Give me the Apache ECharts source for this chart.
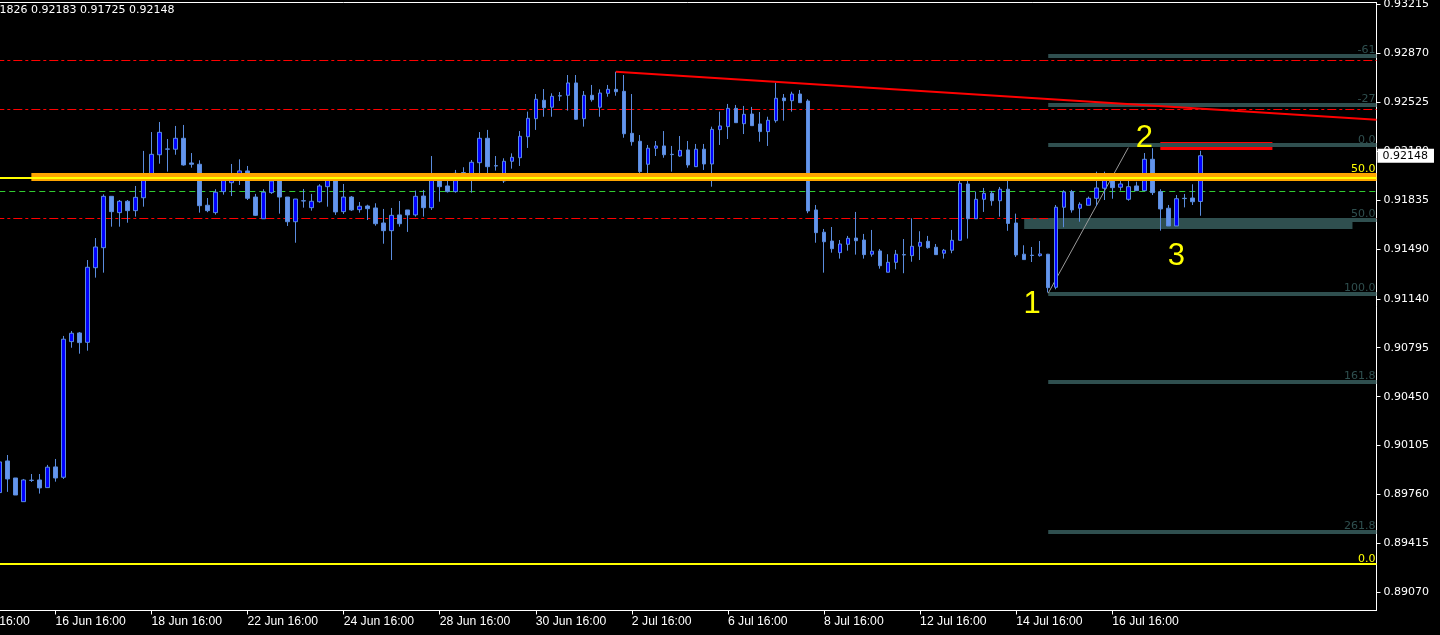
<!DOCTYPE html>
<html><head><meta charset="utf-8">
<script src="https://cdn.jsdelivr.net/npm/echarts@6/dist/echarts.min.js"></script>
<style>html,body{margin:0;padding:0;background:#000;}#c{width:1440px;height:635px;}</style>
</head><body><div id="c"></div>
<script>
// ---- data ----
const tickLabels = ['14 Jun 16:00','16 Jun 16:00','18 Jun 16:00','22 Jun 16:00','24 Jun 16:00','28 Jun 16:00','30 Jun 16:00','2 Jul 16:00','6 Jul 16:00','8 Jul 16:00','12 Jul 16:00','14 Jul 16:00','16 Jul 16:00'];
const barsPerTick = 12;
const slotCount = 178;          // H4 bar slots on the axis (incl. empty space on the right)
const firstBarSlot = 5;         // slot of the first (partly visible) candle
const yTickLabels = ['0.93215','0.92870','0.92525','0.92180','0.91835','0.91490','0.91140','0.90795','0.90450','0.90105','0.89760','0.89415','0.89070'];
const yMin = 0.88943, yMax = 0.93228;
const headerValues = ['0.91826','0.92183','0.91725','0.92148'];
const lastPrice = 0.92148;
// [open, close, low, high]
const candles = [
[0.89774,0.89990,0.89764,0.90004],[0.89997,0.89870,0.89779,0.90039],[0.89877,0.89757,0.89757,0.89877],[0.89710,0.89863,0.89710,0.89870],
[0.89861,0.89860,0.89849,0.89905],[0.89863,0.89807,0.89767,0.89905],[0.89809,0.89953,0.89809,0.89969],[0.89955,0.89877,0.89851,0.90011],
[0.89882,0.90855,0.89870,0.90878],[0.90838,0.90897,0.90795,0.90913],[0.90899,0.90831,0.90753,0.90906],[0.90833,0.91362,0.90774,0.91413],
[0.91359,0.91505,0.91289,0.91568],[0.91500,0.91862,0.91324,0.91876],[0.91862,0.91754,0.91648,0.91862],[0.91747,0.91827,0.91648,0.91836],
[0.91827,0.91761,0.91676,0.91836],[0.91761,0.91855,0.91719,0.91935],[0.91852,0.92017,0.91789,0.92182],[0.92015,0.92158,0.92015,0.92315],
[0.92155,0.92313,0.92092,0.92386],[0.92194,0.92196,0.92036,0.92266],[0.92194,0.92271,0.92155,0.92358],[0.92271,0.92083,0.92078,0.92365],
[0.92097,0.92088,0.92064,0.92167],[0.92088,0.91796,0.91747,0.92116],[0.91799,0.91761,0.91750,0.91850],[0.91747,0.91891,0.91733,0.91912],
[0.91895,0.91977,0.91874,0.91998],[0.91958,0.91986,0.91864,0.92090],[0.91996,0.92041,0.91942,0.92123],[0.92041,0.91848,0.91836,0.92076],
[0.91857,0.91728,0.91723,0.91879],[0.91704,0.91891,0.91704,0.91912],[0.91888,0.91970,0.91879,0.91986],[0.91975,0.91857,0.91740,0.91986],
[0.91857,0.91683,0.91653,0.91857],[0.91683,0.91843,0.91535,0.91843],[0.91831,0.91829,0.91782,0.91914],[0.91782,0.91827,0.91761,0.91879],
[0.91824,0.91935,0.91817,0.91947],[0.91930,0.91984,0.91789,0.92005],[0.91984,0.91752,0.91731,0.91998],[0.91754,0.91857,0.91738,0.91949],
[0.91857,0.91766,0.91759,0.91864],[0.91768,0.91792,0.91747,0.91822],[0.91794,0.91775,0.91695,0.91803],[0.91780,0.91669,0.91655,0.91813],
[0.91674,0.91620,0.91528,0.91773],[0.91620,0.91728,0.91413,0.91780],[0.91731,0.91669,0.91648,0.91829],[0.91766,0.91731,0.91611,0.91766],
[0.91731,0.91862,0.91719,0.91902],[0.91864,0.91782,0.91719,0.91907],[0.91782,0.91984,0.91766,0.92146],[0.91998,0.91930,0.91824,0.92024],
[0.91935,0.91895,0.91889,0.92012],[0.91895,0.92024,0.91888,0.92048],[0.92027,0.92029,0.91972,0.92067],[0.92005,0.92102,0.91888,0.92118],
[0.92099,0.92271,0.92000,0.92315],[0.92271,0.92071,0.91972,0.92330],[0.92078,0.92076,0.92043,0.92146],[0.91970,0.92109,0.91956,0.92130],
[0.92109,0.92137,0.92057,0.92165],[0.92134,0.92285,0.92076,0.92322],[0.92282,0.92412,0.92203,0.92459],[0.92409,0.92546,0.92330,0.92583],
[0.92539,0.92487,0.92423,0.92618],[0.92490,0.92567,0.92423,0.92588],[0.92571,0.92569,0.92534,0.92597],[0.92574,0.92661,0.92466,0.92717],
[0.92661,0.92405,0.92400,0.92717],[0.92409,0.92574,0.92353,0.92604],[0.92574,0.92543,0.92529,0.92647],[0.92490,0.92590,0.92423,0.92616],
[0.92588,0.92616,0.92564,0.92647],[0.92616,0.92599,0.92571,0.92740],[0.92602,0.92303,0.92275,0.92717],[0.92306,0.92247,0.92219,0.92583],
[0.92250,0.92036,0.92000,0.92294],[0.92088,0.92201,0.92007,0.92224],[0.92201,0.92217,0.92146,0.92252],[0.92217,0.92155,0.92134,0.92322],
[0.92158,0.92156,0.92036,0.92217],[0.92146,0.92186,0.92141,0.92287],[0.92189,0.92083,0.92064,0.92252],[0.92071,0.92194,0.92071,0.92231],
[0.92194,0.92090,0.92048,0.92231],[0.92090,0.92334,0.91930,0.92353],[0.92332,0.92358,0.92224,0.92459],[0.92353,0.92482,0.92266,0.92513],
[0.92482,0.92381,0.92381,0.92506],[0.92374,0.92440,0.92301,0.92499],[0.92442,0.92360,0.92360,0.92492],[0.92372,0.92318,0.92247,0.92456],
[0.92318,0.92398,0.92217,0.92423],[0.92395,0.92553,0.92381,0.92663],[0.92555,0.92536,0.92395,0.92583],[0.92536,0.92583,0.92459,0.92599],
[0.92583,0.92522,0.92522,0.92611],[0.92534,0.91759,0.91743,0.92546],[0.91766,0.91606,0.91535,0.91801],[0.91609,0.91542,0.91324,0.91632],
[0.91547,0.91493,0.91465,0.91646],[0.91465,0.91526,0.91423,0.91554],[0.91524,0.91566,0.91479,0.91583],[0.91568,0.91549,0.91451,0.91752],
[0.91554,0.91451,0.91423,0.91597],[0.91454,0.91475,0.91437,0.91625],[0.91477,0.91373,0.91352,0.91491],[0.91327,0.91397,0.91327,0.91454],
[0.91397,0.91454,0.91348,0.91484],[0.91451,0.91449,0.91320,0.91561],[0.91444,0.91510,0.91401,0.91707],[0.91510,0.91538,0.91413,0.91616],
[0.91545,0.91500,0.91493,0.91583],[0.91503,0.91451,0.91451,0.91526],[0.91461,0.91482,0.91423,0.91491],[0.91482,0.91552,0.91461,0.91625],
[0.91552,0.91954,0.91552,0.92005],[0.91949,0.91704,0.91564,0.92005],[0.91704,0.91841,0.91704,0.91895],[0.91841,0.91883,0.91752,0.91921],
[0.91883,0.91831,0.91796,0.91900],[0.91831,0.91912,0.91719,0.91928],[0.91912,0.91671,0.91619,0.91977],[0.91674,0.91449,0.91435,0.91740],
[0.91454,0.91416,0.91416,0.91517],[0.91447,0.91445,0.91399,0.91505],[0.91444,0.91456,0.91437,0.91547],[0.91454,0.91218,0.91184,0.91456],
[0.91221,0.91785,0.91207,0.91801],[0.91785,0.91893,0.91644,0.91905],[0.91895,0.91766,0.91747,0.91907],[0.91778,0.91806,0.91683,0.91820],
[0.91799,0.91848,0.91799,0.91860],[0.91848,0.91921,0.91794,0.92036],[0.91919,0.91984,0.91836,0.92036],[0.91979,0.91923,0.91845,0.92024],
[0.91926,0.91949,0.91902,0.91982],[0.91841,0.91930,0.91831,0.92005],[0.91935,0.91902,0.91902,0.91965],[0.91902,0.92123,0.91902,0.92167],
[0.92123,0.91888,0.91871,0.92201],[0.91895,0.91773,0.91620,0.91912],[0.91778,0.91653,0.91653,0.91801],[0.91653,0.91845,0.91653,0.91871],
[0.91848,0.91846,0.91784,0.91879],[0.91850,0.91824,0.91801,0.91947],[0.91826,0.92148,0.91725,0.92183]
];
// drawn objects (values in price / bar-slot space)
const redLevels = [0.92823, 0.92475, 0.91707];
const greenLevel = 0.91898;
const fibNames = ['-61','-27','0.0','50.0','100.0','161.8','261.8'];
const fibValues = [0.92856, 0.92509, 0.92222, 0.91699, 0.91174, 0.90556, 0.89499];
const fibSlots = [136, 177];
const yellowNames = ['50.0','0.0'];
const yellowValues = [0.91991, 0.89269];
const bandValues = [0.92027, 0.91970];
const bandSlots = [9, 177];
const zoneSlots = [133, 174], zoneValues = [0.91709, 0.91632];
const redBoxSlots = [150, 164], redBoxValues = [0.92245, 0.92189];
const trendSlots = [82, 177], trendValues = [0.92740, 0.92401];
const swingSlots = [136, 146], swingValues = [0.91179, 0.92205];
const waveNames = ['1','2','3'];
const waveSlots = [134, 148, 152];
const waveValues = [0.91098, 0.92273, 0.91436];

// ---- build ----
const categories = Array.from({length: slotCount}, (_, i) => 'bar' + i);
const empty = ['-','-','-','-'];
const seriesData = categories.map((_, i) => candles[i - firstBarSlot] || empty);
const yTickValues = yTickLabels.map(Number);
const isTick = (i) => i % barsPerTick === 0 && i / barsPerTick < tickLabels.length;
const slotEnd = slotCount - 1;

const chart = echarts.init(document.getElementById('c'));
chart.setOption({
  backgroundColor: '#000',
  animation: false,
  title: {
    text: headerValues.join(' '), left: -18, top: 5, padding: 0,
    textStyle: {color: '#fff', fontFamily: 'DejaVu Sans', fontSize: 11, fontWeight: 'normal'}
  },
  grid: {left: -40.7, right: 63.5, top: 2.5, bottom: 24.5, show: true, borderColor: '#fff', borderWidth: 1,
         backgroundColor: 'transparent', containLabel: false, outerBoundsMode: 'none'},
  xAxis: {
    type: 'category', data: categories, boundaryGap: false,
    axisLine: {show: true, lineStyle: {color: '#fff', width: 1}},
    axisTick: {show: true, interval: (i) => isTick(i), length: 4, lineStyle: {color: '#fff'}},
    axisLabel: {
      interval: (i) => isTick(i),
      formatter: (v, i) => isTick(i) ? tickLabels[i / barsPerTick] : '',
      color: '#fff', fontFamily: 'Liberation Sans', fontSize: 12.2, align: 'left', margin: 5,
      overflow: 'none', width: 120
    },
    splitLine: {show: false}
  },
  yAxis: [{
    type: 'value', position: 'right', min: yMin, max: yMax,
    axisLine: {show: true, lineStyle: {color: '#fff'}},
    axisTick: {show: true, length: 4, lineStyle: {color: '#fff'}, customValues: yTickValues},
    axisLabel: {
      customValues: yTickValues,
      formatter: (v) => { const s = yTickLabels.find(t => Math.abs(Number(t) - v) < 1e-7); return s || ''; },
      color: '#fff', fontFamily: 'DejaVu Sans', fontSize: 11, margin: 7
    },
    splitLine: {show: false}
  }, {
    type: 'value', position: 'right', min: yMin, max: yMax, z: 10,
    axisLine: {show: false}, axisTick: {show: false}, splitLine: {show: false},
    axisLabel: {
      customValues: [lastPrice], formatter: () => lastPrice.toFixed(5),
      color: '#000', backgroundColor: '#fff', padding: [1, 6, 1, 5], margin: 1,
      fontFamily: 'DejaVu Sans', fontSize: 11, lineHeight: 12
    }
  }],
  series: [{
    type: 'candlestick', name: 'price', data: seriesData, z: 3, barWidth: 4,
    itemStyle: {color: '#0000FF', color0: '#6495ED', borderColor: '#5A8CDE', borderColor0: '#5A8CDE', borderWidth: 1}
  }, {
    type: 'line', name: 'background objects', data: [], silent: true,
    markArea: {
      z: 1, silent: true,
      data: [
        [{coord: [zoneSlots[0], zoneValues[0]], itemStyle: {color: '#2F4F4F'}}, {coord: [zoneSlots[1], zoneValues[1]]}],
        [{coord: [redBoxSlots[0], redBoxValues[0]], itemStyle: {color: '#FF0000'}}, {coord: [redBoxSlots[1], redBoxValues[1]]}]
      ]
    },
    markLine: {
      z: 2, silent: true, symbol: ['none', 'none'], precision: 6,
      lineStyle: {color: '#2F4F4F', width: 4, type: 'solid'},
      label: {show: true, position: 'insideEndTop', formatter: '{b}', color: '#2F4F4F', fontFamily: 'DejaVu Sans', fontSize: 11, distance: [1, 0]},
      emphasis: {disabled: true},
      data: [
        ...redLevels.map(v => [{coord: [0, v], name: '', lineStyle: {color: '#FF0000', width: 1, type: [9, 3, 3, 3]}, label: {show: false}}, {coord: [slotEnd, v]}]),
        [{coord: [0, greenLevel], name: '', lineStyle: {color: '#32CD32', width: 1, type: [6, 4]}, label: {show: false}}, {coord: [slotEnd, greenLevel]}],
        ...fibValues.map((v, i) => [{coord: [fibSlots[0], v], name: fibNames[i]}, {coord: [fibSlots[1], v]}]),
        [{coord: [swingSlots[0], swingValues[0]], name: '', lineStyle: {color: '#9a9a9a', width: 1, type: 'solid'}, label: {show: false}}, {coord: [swingSlots[1], swingValues[1]]}]
      ]
    }
  }, {
    type: 'line', name: 'foreground objects', data: [], silent: true,
    markArea: {
      z: 4, silent: true, itemStyle: {color: '#FFA500'},
      data: [[{coord: [bandSlots[0], bandValues[0]]}, {coord: [bandSlots[1], bandValues[1]]}]]
    },
    markLine: {
      z: 5, silent: true, symbol: ['none', 'none'], precision: 6,
      lineStyle: {color: '#FFFF00', width: 2, type: 'solid'},
      label: {show: true, position: 'insideEndTop', formatter: '{b}', color: '#FFFF00', fontFamily: 'DejaVu Sans', fontSize: 11, distance: [1, 0]},
      emphasis: {disabled: true},
      data: [
        [{coord: [0, yellowValues[0]], name: yellowNames[0], label: {distance: [1, 3]}}, {coord: [slotEnd, yellowValues[0]]}],
        [{coord: [0, yellowValues[1]], name: yellowNames[1]}, {coord: [slotEnd, yellowValues[1]]}],
        [{coord: [trendSlots[0], trendValues[0]], name: '', lineStyle: {color: '#FF0000', width: 2, type: 'solid'}, label: {show: false}}, {coord: [trendSlots[1], trendValues[1]]}]
      ]
    },
    markPoint: {
      z: 6, silent: true, symbol: 'circle', symbolSize: 1, itemStyle: {color: 'rgba(0,0,0,0)'},
      label: {show: true, position: 'inside', formatter: '{b}', color: '#FFFF00', fontFamily: 'Liberation Sans', fontSize: 31},
      data: waveNames.map((n, i) => ({name: n, coord: [waveSlots[i], waveValues[i]]}))
    }
  }]
});
</script>
</body></html>
